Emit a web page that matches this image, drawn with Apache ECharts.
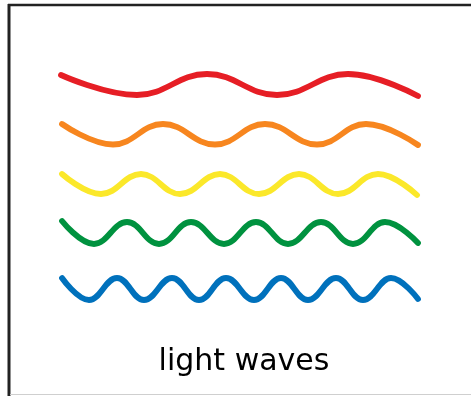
<!DOCTYPE html>
<html>
<head>
<meta charset="utf-8">
<script src="https://cdn.jsdelivr.net/npm/echarts@6/dist/echarts.min.js"></script>
<style>
  html, body { margin: 0; padding: 0; background: #fff; }
  #chart { width: 471px; height: 396px; }
</style>
</head>
<body>
<div id="chart"></div>
<script>
// Wave extremes (x position, y position; y grows downward)
const redX    = [61, 137, 207, 277, 348, 418];
const redY    = [75, 95, 74, 95, 74, 96];
const orangeX = [62, 113, 163, 215, 265, 317, 366, 418];
const orangeY = [124, 144.5, 124, 144.5, 124, 144.5, 124, 145];
const yellowX = [62, 101, 141, 180, 220, 259, 299, 338, 378, 417];
const yellowY = [174, 194, 174, 194, 174, 194, 174, 194, 174, 195];
const greenX  = [62, 94, 127, 159, 191, 224, 256, 288, 321, 353, 385, 418];
const greenY  = [221, 244, 222, 244, 222, 244, 222, 244, 222, 244, 222, 243];
const blueX   = [62, 89, 117, 144, 172, 199, 226, 254, 281, 308, 336, 363, 391, 418];
const blueY   = [278, 300, 278, 300, 278, 300, 278, 300, 278, 300, 278, 300, 278, 299];
const caption = 'light waves';

const waves = [
  { name: 'red',    x: redX,    y: redY,    color: '#e61e25' },
  { name: 'orange', x: orangeX, y: orangeY, color: '#f7861f' },
  { name: 'yellow', x: yellowX, y: yellowY, color: '#fbe82a' },
  { name: 'green',  x: greenX,  y: greenY,  color: '#00923f' },
  { name: 'blue',   x: blueX,   y: blueY,   color: '#0071bc' }
];

const chart = echarts.init(document.getElementById('chart'), null, { renderer: 'canvas' });
chart.setOption({
  animation: false,
  backgroundColor: '#ffffff',
  grid: { left: 0, right: 0, top: 0, bottom: 0 },
  xAxis: { type: 'value', min: 0, max: 471, show: false },
  yAxis: { type: 'value', min: 0, max: 396, inverse: true, show: false },
  series: waves.map(w => ({
    name: w.name,
    type: 'line',
    smooth: 0.42,
    symbol: 'none',
    silent: true,
    lineStyle: { color: w.color, width: 5.8, cap: 'round', join: 'round' },
    data: w.x.map((v, i) => [v, w.y[i]])
  })),
  graphic: [
    { type: 'line', shape: { x1: 8, y1: 5, x2: 471, y2: 5 }, style: { stroke: '#222', lineWidth: 2.5 }, silent: true },
    { type: 'line', shape: { x1: 9, y1: 4, x2: 9, y2: 396 }, style: { stroke: '#222', lineWidth: 3 }, silent: true },
    { type: 'line', shape: { x1: 10, y1: 394.5, x2: 471, y2: 394.5 }, style: { stroke: '#cfcfcf', lineWidth: 1 }, silent: true },
    { type: 'text', x: 244, y: 362, silent: true,
      style: { text: caption, fontFamily: 'DejaVu Sans', fontSize: 30, fill: '#000', align: 'center', verticalAlign: 'middle' } }
  ]
});
</script>
</body>
</html>
